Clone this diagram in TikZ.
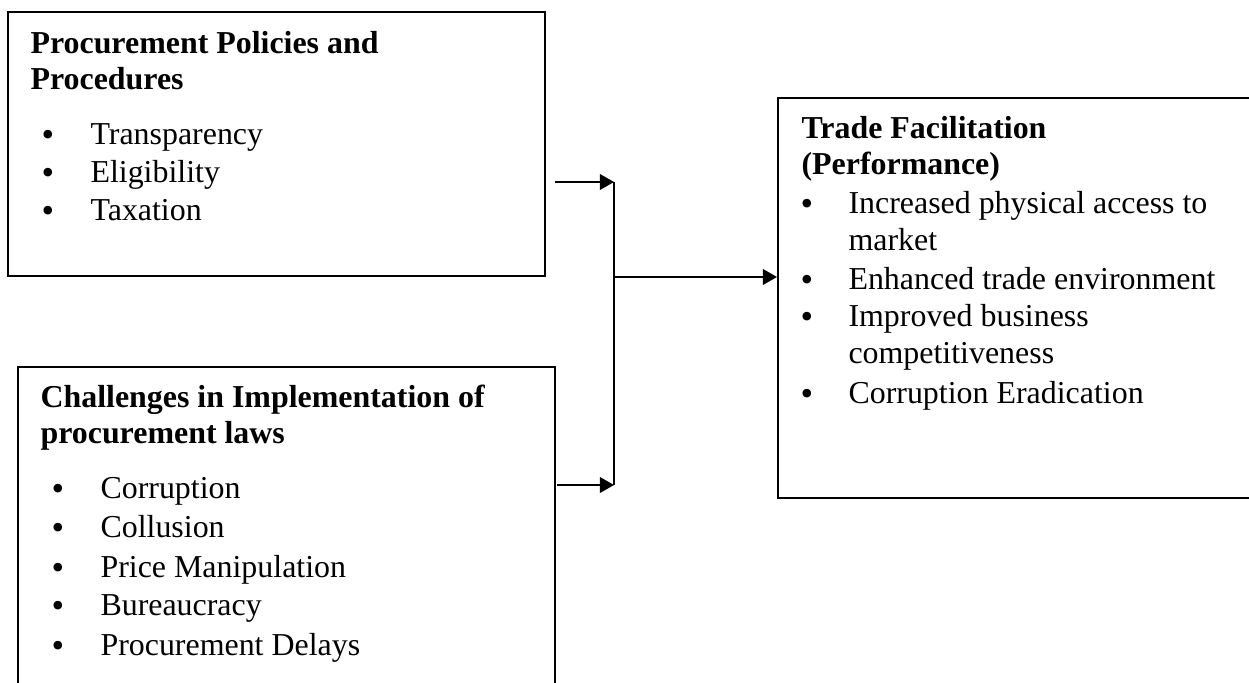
\documentclass[tikz,border=0pt]{standalone}
\usepackage{fontspec}
\setmainfont{Liberation Serif}
\usetikzlibrary{fit,arrows.meta}
\begin{document}
\begin{tikzpicture}[x=0.376pt,y=-0.376pt,
  box/.style={draw=black,line width=0.75pt,inner sep=0pt,rectangle},
  hd/.style={anchor=base west,inner sep=0pt,font=\fontsize{12}{14}\selectfont\bfseries},
  txt/.style={anchor=base west,inner sep=0pt,font=\fontsize{12}{14}\selectfont},
  bul/.style={anchor=base,inner sep=0pt,yshift=-0.8pt,text height=6pt,text depth=0pt,font=\fontsize{13.5}{14}\selectfont},
  arr/.style={draw=black,line width=0.55pt,-{Triangle[length=5.3pt,width=5.9pt]}},
  ln/.style={draw=black,line width=0.55pt}]
\useasboundingbox (0,0) rectangle (1249,682);
\clip (0,0) rectangle (1249,682);
% boxes
\node[box,fit={(8,12) (545,276)}] (b1) {};
\node[box,fit={(18,367) (555,720)}] (b2) {};
\node[box,fit={(778,98) (1280,498)}] (b3) {};
% box 1 text
\node[hd] (h1a) at (30,53) {Procurement Policies and};
\node[hd] (h1b) at (30,89) {Procedures};
\node[bul] (u1a) at (48,144) {•};
\node[txt] (i1a) at (90,144) {Transparency};
\node[bul] (u1b) at (48,182) {•};
\node[txt] (i1b) at (90,182) {Eligibility};
\node[bul] (u1c) at (48,220) {•};
\node[txt] (i1c) at (90,220) {Taxation};
% box 2 text
\node[hd] (h2a) at (40,407) {Challenges in Implementation of};
\node[hd] (h2b) at (40,443) {procurement laws};
\node[bul] (u2a) at (58,498) {•};
\node[txt] (i2a) at (100,498) {Corruption};
\node[bul] (u2b) at (58,537) {•};
\node[txt] (i2b) at (100,537) {Collusion};
\node[bul] (u2c) at (58,577) {•};
\node[txt] (i2c) at (100,577) {Price Manipulation};
\node[bul] (u2d) at (58,615) {•};
\node[txt] (i2d) at (100,615) {Bureaucracy};
\node[bul] (u2e) at (58,655) {•};
\node[txt] (i2e) at (100,655) {Procurement Delays};
% box 3 text
\node[hd] (h3a) at (801,138) {Trade Facilitation};
\node[hd] (h3b) at (801,174) {(Performance)};
\node[bul] (u3a) at (807,213) {•};
\node[txt] (i3a) at (848,213) {Increased physical access to};
\node[txt] (i3a2) at (848,250) {market};
\node[bul] (u3b) at (807,289) {•};
\node[txt] (i3b) at (848,289) {Enhanced trade environment};
\node[bul] (u3c) at (807,326) {•};
\node[txt] (i3c) at (848,326) {Improved business};
\node[txt] (i3c2) at (848,363) {competitiveness};
\node[bul] (u3d) at (807,403) {•};
\node[txt] (i3d) at (848,403) {Corruption Eradication};
% connectors
\coordinate (s1) at (555,182);
\coordinate (s2) at (557,485);
\coordinate (j1) at (614,182);
\coordinate (j2) at (614,485);
\coordinate (jm) at (614,277);
\draw[arr] (s1) -- (j1);
\draw[arr] (s2) -- (j2);
\draw[ln] (j1) -- (j2);
\draw[arr] (jm) -- (b3.west |- jm);
\end{tikzpicture}
\end{document}
